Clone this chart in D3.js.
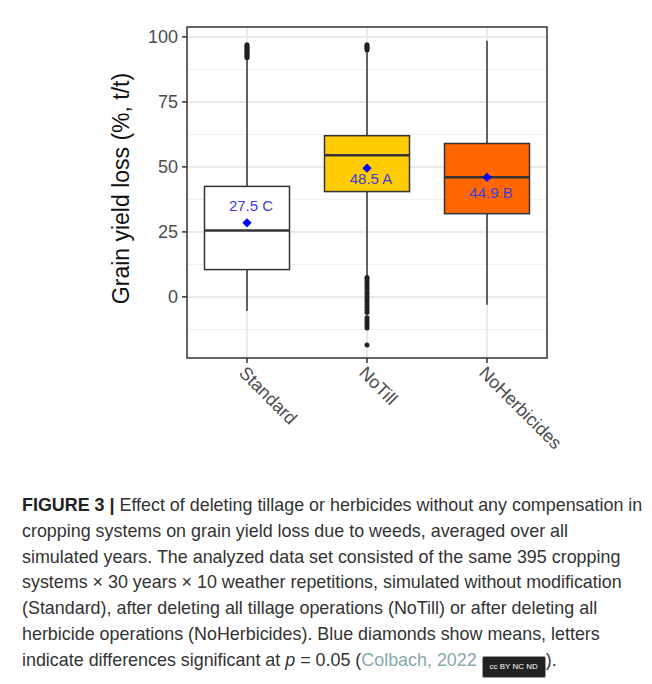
<!DOCTYPE html>
<html><head><meta charset="utf-8">
<script src="https://cdn.jsdelivr.net/npm/d3@7"></script>
<style>
body{margin:0;background:#fff;font-family:"Liberation Sans",Arial,sans-serif;}
.cap{position:absolute;left:22px;top:493px;width:640px;font-size:17.9px;line-height:25.8px;color:#333;white-space:nowrap}
.cap b{color:#222}
.badge{display:inline-block;width:62px;height:20px;background:#222;border:1px solid #999;border-radius:2px;vertical-align:-3px;color:#fff;font-size:8px;text-align:center;line-height:20px}
</style></head><body>
<svg id="c" width="652" height="490"></svg>
<div class="cap"><b>FIGURE 3 |</b> Effect of deleting tillage or herbicides without any compensation in<br>cropping systems on grain yield loss due to weeds, averaged over all<br>simulated years. The analyzed data set consisted of the same 395 cropping<br>systems × 30 years × 10 weather repetitions, simulated without modification<br>(Standard), after deleting all tillage operations (NoTill) or after deleting all<br>herbicide operations (NoHerbicides). Blue diamonds show means, letters<br>indicate differences significant at <i>p</i> = 0.05 (<span style="color:#8aa">Colbach, 2022</span> <span class="badge">cc BY NC ND</span>).</div>
<script>
const categories = ['Standard', 'NoTill', 'NoHerbicides'];
const fills = ['#ffffff', '#ffcc00', '#ff6600'];
const q1 = [10.5, 40.5, 32];
const medians = [25.5, 54.5, 46];
const q3 = [42.5, 62, 59];
const whiskLow = [-5.4, 8, -3];
const whiskHigh = [91.5, 94.5, 98.5];
const means = [28.5, 49.5, 46];
const meanLabels = ['27.5  C', '48.5 A', '44.9 B'];
const labelY = [33, 43.5, 38];
const outliers = [
  [92, 92.5, 93, 93.5, 94, 94.5, 95, 95.5, 96, 96.5, 97],
  [95, 95.5, 96, 96.5, 97, 7.5, 7, 6, 5, 4, 3, 2, 1, 0, -1, -2, -3, -4, -5, -6, -8, -9, -10, -11, -12, -18.5],
  []
];
const yTicks = [0, 25, 50, 75, 100];
const yMinor = [-12.5, 12.5, 37.5, 62.5, 87.5];

const svg = d3.select('#c');
const L = 187, R = 547, T = 27, B = 358;
const x = d3.scaleBand().domain(categories).range([L, R]).paddingInner(0.05).paddingOuter(0.025);
const y = d3.scaleLinear().domain([-23.5, 103.8]).range([B, T]);
const bw = 85;
const cx = c => x(c) + x.bandwidth() / 2;

const g = svg.append('g');
yMinor.forEach(v => g.append('line').attr('x1', L).attr('x2', R).attr('y1', y(v)).attr('y2', y(v)).attr('stroke', '#f0f0f0').attr('stroke-width', 1));
yTicks.forEach(v => g.append('line').attr('x1', L).attr('x2', R).attr('y1', y(v)).attr('y2', y(v)).attr('stroke', '#ebebeb').attr('stroke-width', 2));
categories.forEach(c => g.append('line').attr('x1', cx(c)).attr('x2', cx(c)).attr('y1', T).attr('y2', B).attr('stroke', '#ebebeb').attr('stroke-width', 2));

categories.forEach((c, i) => {
  const X = cx(c);
  g.append('line').attr('x1', X).attr('x2', X).attr('y1', y(whiskLow[i])).attr('y2', y(whiskHigh[i])).attr('stroke', '#333').attr('stroke-width', 1.5);
  g.append('rect').attr('x', X - bw / 2).attr('width', bw).attr('y', y(q3[i])).attr('height', y(q1[i]) - y(q3[i]))
    .attr('fill', fills[i]).attr('stroke', '#333').attr('stroke-width', 1.5);
  g.append('line').attr('x1', X - bw / 2).attr('x2', X + bw / 2).attr('y1', y(medians[i])).attr('y2', y(medians[i])).attr('stroke', '#333').attr('stroke-width', 2.5);
  outliers[i].forEach(v => g.append('circle').attr('cx', X).attr('cy', y(v)).attr('r', 2.5).attr('fill', '#222'));
  g.append('path').attr('d', d3.symbol(d3.symbolDiamond2, 55)()).attr('transform', `translate(${X},${y(means[i])})`).attr('fill', '#0000ff');
  g.append('text').attr('x', X + 4).attr('y', y(labelY[i])).attr('text-anchor', 'middle').attr('font-size', 15).attr('fill', '#4040d8').text(meanLabels[i]);
});

g.append('rect').attr('x', L).attr('y', T).attr('width', R - L).attr('height', B - T).attr('fill', 'none').attr('stroke', '#333').attr('stroke-width', 1.5);

yTicks.forEach(v => {
  g.append('line').attr('x1', L - 5).attr('x2', L).attr('y1', y(v)).attr('y2', y(v)).attr('stroke', '#333').attr('stroke-width', 1.5);
  g.append('text').attr('x', L - 9).attr('y', y(v) + 6.5).attr('text-anchor', 'end').attr('font-size', 18).attr('fill', '#4d4d4d').text(v);
});
categories.forEach(c => {
  g.append('line').attr('x1', cx(c)).attr('x2', cx(c)).attr('y1', B).attr('y2', B + 5).attr('stroke', '#333').attr('stroke-width', 1.5);
  g.append('text').attr('transform', `translate(${cx(c) - 9},${B + 16}) rotate(45)`).attr('font-size', 18).attr('fill', '#4d4d4d').text(c);
});
g.append('text').attr('transform', `translate(129,${(T + B) / 2 - 4}) rotate(-90)`).attr('text-anchor', 'middle').attr('font-size', 23).attr('fill', '#111').text('Grain yield loss (%, t/t)');
</script>
</body></html>
